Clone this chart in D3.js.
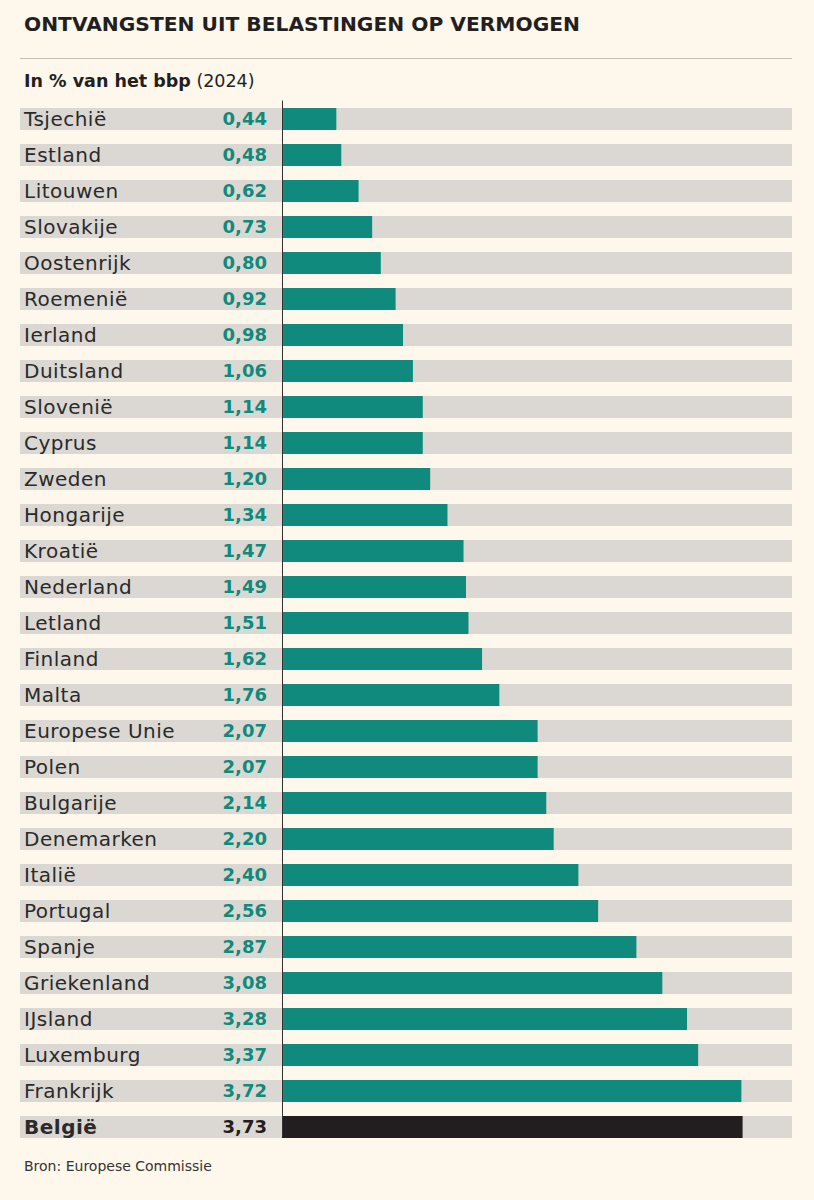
<!DOCTYPE html>
<html>
<head>
<meta charset="utf-8">
<script src="https://cdn.jsdelivr.net/npm/d3@7"></script>
<style>
  html, body { margin: 0; padding: 0; background: #fdf7ec; }
  svg { display: block; }
</style>
</head>
<body>
<svg id="chart" width="814" height="1200"></svg>
<script>
const countries = ["Tsjechië","Estland","Litouwen","Slovakije","Oostenrijk","Roemenië","Ierland","Duitsland","Slovenië","Cyprus","Zweden","Hongarije","Kroatië","Nederland","Letland","Finland","Malta","Europese Unie","Polen","Bulgarije","Denemarken","Italië","Portugal","Spanje","Griekenland","IJsland","Luxemburg","Frankrijk","België"];
const values = [0.44,0.48,0.62,0.73,0.80,0.92,0.98,1.06,1.14,1.14,1.20,1.34,1.47,1.49,1.51,1.62,1.76,2.07,2.07,2.14,2.20,2.40,2.56,2.87,3.08,3.28,3.37,3.72,3.73];
const highlight = "België";
const title = "ONTVANGSTEN UIT BELASTINGEN OP VERMOGEN";
const subtitleBold = "In % van het bbp";
const subtitleNormal = " (2024)";
const source = "Bron: Europese Commissie";

const data = countries.map((c, i) => ({ country: c, value: values[i] }));

const svg = d3.select("#chart");
const FONT = "'DejaVu Sans', sans-serif";
const TEAL = "#0f8a7d";
const DARK = "#221e1f";
const BAND = "#dbd8d3";

svg.append("rect").attr("width", 814).attr("height", 1200).attr("fill", "#fdf7ec");

// Title
svg.append("text")
  .attr("x", 24).attr("y", 31)
  .attr("font-family", FONT).attr("font-weight", "bold").attr("font-size", 20)
  .attr("fill", "#231f20")
  .attr("textLength", 556).attr("lengthAdjust", "spacingAndGlyphs")
  .text(title);

// Rule
svg.append("line")
  .attr("x1", 20).attr("x2", 792).attr("y1", 58.5).attr("y2", 58.5)
  .attr("stroke", "#c4bfb6").attr("stroke-width", 1);

// Subtitle
const sub = svg.append("text")
  .attr("x", 24).attr("y", 87)
  .attr("font-family", FONT).attr("font-size", 17.5).attr("fill", "#231f20");
sub.append("tspan").attr("font-weight", "bold").text(subtitleBold);
sub.append("tspan").attr("font-weight", "normal").text(subtitleNormal);

// Scales
const x = d3.scaleLinear().domain([0, 3.73]).range([282, 742.6]);
const y = d3.scaleBand()
  .domain(countries)
  .range([101, 101 + countries.length * 36])
  .paddingInner(14 / 36)
  .paddingOuter(7 / 36);

const rows = svg.append("g").selectAll("g")
  .data(data).join("g");

// Background bands
rows.append("rect")
  .attr("x", 20).attr("width", 772)
  .attr("y", d => y(d.country)).attr("height", y.bandwidth())
  .attr("fill", BAND);

// Bars
rows.append("rect")
  .attr("x", x(0))
  .attr("y", d => y(d.country))
  .attr("width", d => x(d.value) - x(0))
  .attr("height", y.bandwidth())
  .attr("fill", d => d.country === highlight ? DARK : TEAL);

// Country labels
rows.append("text")
  .attr("x", 24)
  .attr("y", d => y(d.country) + y.bandwidth() / 2)
  .attr("dy", "0.36em")
  .attr("font-family", FONT).attr("font-size", 20)
  .attr("letter-spacing", 0.5)
  .attr("font-weight", d => d.country === highlight ? "bold" : "normal")
  .attr("fill", "#2a2a2a")
  .text(d => d.country);

// Value labels
const fmt = d3.formatLocale({ decimal: ",", thousands: ".", grouping: [3], currency: ["€", ""] }).format(".2f");
rows.append("text")
  .attr("x", 267)
  .attr("y", d => y(d.country) + y.bandwidth() / 2)
  .attr("dy", "0.36em")
  .attr("text-anchor", "end")
  .attr("font-family", FONT).attr("font-size", 18).attr("font-weight", "bold")
  .attr("fill", d => d.country === highlight ? DARK : TEAL)
  .text(d => fmt(d.value));

// Axis line
svg.append("g")
  .attr("transform", `translate(${x(0)},0)`)
  .call(d3.axisLeft(d3.scaleLinear().range([100, 1136])).ticks(0).tickSizeOuter(0))
  .call(g => g.select(".domain").attr("stroke", "#333").attr("stroke-width", 1))
  .call(g => g.selectAll(".tick").remove());

// Source
svg.append("text")
  .attr("x", 24).attr("y", 1171)
  .attr("font-family", FONT).attr("font-size", 14).attr("fill", "#333")
  .text(source);
</script>
</body>
</html>
